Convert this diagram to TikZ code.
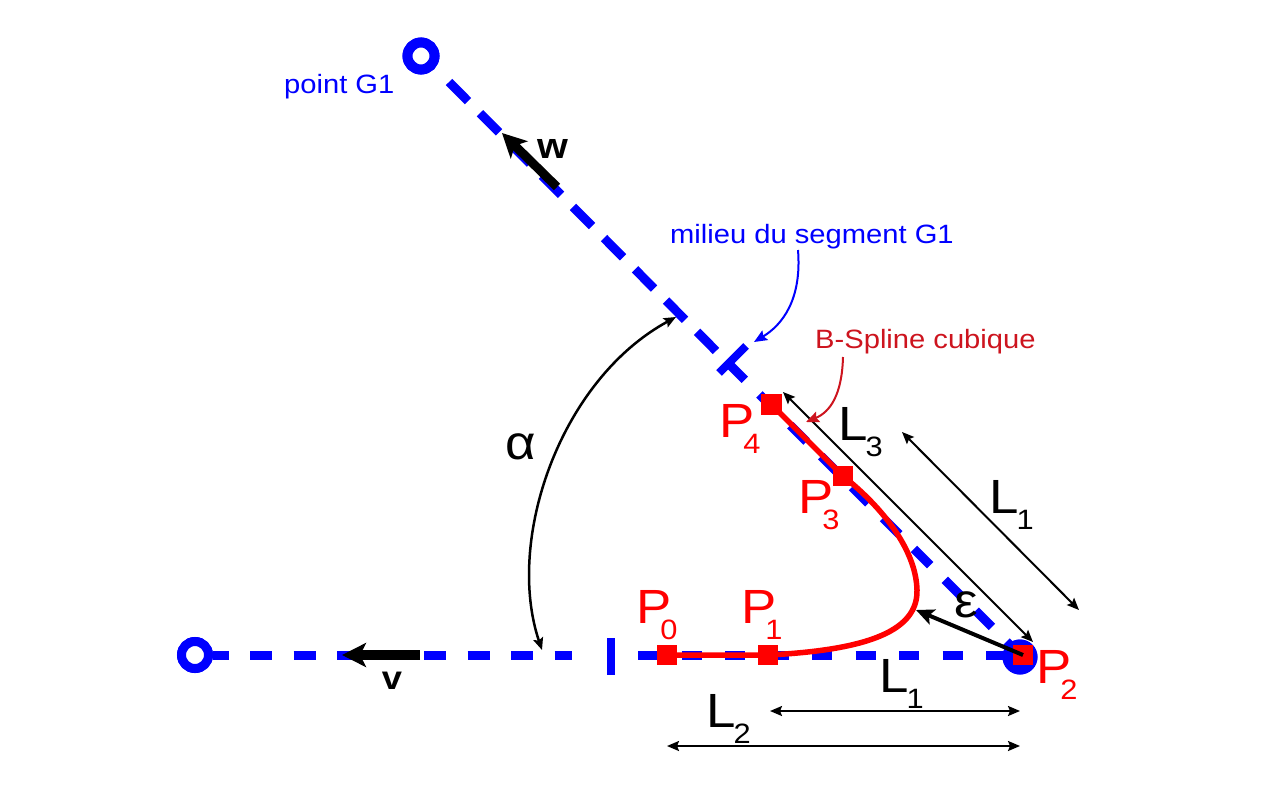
\documentclass[tikz,border=0pt]{standalone}
\usepackage{fontspec}
\setmainfont[FakeStretch=1.1]{Liberation Sans}
\usetikzlibrary{arrows.meta}
\newcommand\myfs[1]{\fontsize{#1}{#1}\selectfont}
\newcommand\subP[2]{#1\kern-11pt\raisebox{-16pt}{\myfs{28}#2}}
\newcommand\subL[2]{#1\kern-2pt\raisebox{-16pt}{\myfs{28}#2}}
\definecolor{myblue}{RGB}{0,0,255}
\definecolor{myred}{RGB}{255,0,0}
\definecolor{darkred}{RGB}{205,20,30}
\tikzset{
  bluedash/.style={draw=myblue, line width=9pt},
  bluetick/.style={draw=myblue, line width=8pt},
  ring/.style={circle, draw=myblue, fill=white, inner sep=0pt},
  sq/.style={rectangle, fill=myred, inner sep=0pt, minimum size=20pt},
  spline/.style={draw=myred, line width=5.5pt},
  thinarrow/.style={draw=black, line width=2pt, {Stealth[length=12pt,width=10pt,inset=2pt]}-{Stealth[length=12pt,width=10pt,inset=2pt]}},
  fatarrow/.style={draw=black, line width=9pt, -{Stealth[length=24pt,width=24pt,inset=6pt]}},
  epsarrow/.style={draw=black, line width=4pt, -{Stealth[length=18pt,width=16pt,inset=4pt]}},
  lbl/.style={inner sep=0pt, anchor=base west},
  big/.style={font=\myfs{48}},
  small/.style={font=\myfs{26.5}},
}
\begin{document}
\begin{tikzpicture}[x=1pt,y=-1pt]
\useasboundingbox[fill=white] (0,0) rectangle (1280,787);

% main points
\node[circle, fill=myblue, inner sep=0pt, minimum size=35pt] (p2c) at (1020,657) {};
\node[ring, line width=10pt, minimum size=27pt] (g1) at (421,56) {};
\node[ring, line width=9pt, minimum size=27pt] (q) at (195,655) {};

% dashed lines (segments between named points)
\coordinate (gs) at (449,82);
\coordinate (tf) at (728.5,363.5);
\coordinate (pe) at (1020,655);
\draw[bluedash, dash pattern=on 27pt off 17pt] (gs) -- (tf);
\draw[bluedash, dash pattern=on 23pt off 20.7pt] (tf) -- (pe);
\coordinate (hl) at (572,655);
\coordinate (hr) at (638,655);
\draw[bluedash, dash pattern=on 22pt off 21.5pt, dash phase=6.5pt] (q) -- (hl);
\draw[bluedash, dash pattern=on 20pt off 23.5pt] (hr) -- (pe);

% ticks
\coordinate (ht1) at (611,638);
\coordinate (ht2) at (611,675);
\draw[bluetick] (ht1) -- (ht2);
\coordinate (mt1) at (719,373);
\coordinate (mt2) at (746,346);
\draw[bluetick] (mt1) -- (mt2);

% rings on top
\node[ring, line width=10pt, minimum size=27pt] at (g1) {};
\node[ring, line width=9pt, minimum size=27pt] at (q) {};
\node[circle, fill=myblue, inner sep=0pt, minimum size=35pt] at (p2c) {};

% spline
\node[sq] (p0) at (667,655) {};
\node[sq] (p1) at (768,655) {};
\node[sq] (p3) at (843,476) {};
\node[sq, minimum size=21pt] (p4) at (771,404) {};
\node[sq] (p2) at (1023,655) {};
\draw[spline] (p0.center) -- (p1.center)
  .. controls (870,650) and (918,630) .. (917,590)
  .. controls (916,550) and (883,508) .. (p3.center) -- (p4.center);
\node[sq] at (p0) {};
\node[sq] at (p1) {};
\node[sq] at (p3) {};
\node[sq, minimum size=21pt] at (p4) {};
\node[sq] at (p2) {};

% vectors w and v
\coordinate (wt) at (557,187);
\coordinate (wh) at (502,133);
\draw[fatarrow] (wt) -- (wh);
\coordinate (vt) at (420,655);
\coordinate (vh) at (342,655);
\draw[fatarrow, line width=10pt] (vt) -- (vh);
\node[inner sep=0pt, font=\myfs{36}\bfseries] (wl) at (553,149) {w};
\node[inner sep=0pt, font=\myfs{33}\bfseries] (vl) at (392,681) {v};

% alpha arc
\coordinate (a1) at (542,650);
\coordinate (a2) at (676,317);
\draw[thinarrow, line width=2.5pt] (a2) .. controls (560,380) and (505,540) .. (a1);
\node[inner sep=0pt, font=\myfs{48}] (al) at (521,447) {α};

% dimension arrows
\coordinate (l3a) at (783,392);
\coordinate (l3b) at (1033,642);
\draw[thinarrow] (l3a) -- (l3b);
\coordinate (l1a) at (902,432);
\coordinate (l1b) at (1079,610);
\draw[thinarrow] (l1a) -- (l1b);
\coordinate (l1c) at (770,711);
\coordinate (l1d) at (1020,711);
\draw[thinarrow] (l1c) -- (l1d);
\coordinate (l2a) at (667,746);
\coordinate (l2b) at (1020,746);
\draw[thinarrow] (l2a) -- (l2b);

% epsilon
\coordinate (epsend) at (916,610);
\draw[epsarrow] (p2.center) -- (epsend);
\node[inner sep=0pt, font=\myfs{48}] (el) at (966,605) {ε};

% annotation arrows
\coordinate (ma) at (798,250);
\coordinate (mb) at (754,342);
\draw[draw=myblue, line width=2pt, -{Stealth[length=13pt,width=11pt,inset=2pt]}] (ma) .. controls (802,300) and (782,325) .. (mb);
\coordinate (ba) at (843,357);
\coordinate (bb) at (806,422);
\draw[draw=darkred, line width=2pt, -{Stealth[length=13pt,width=11pt,inset=2pt]}] (ba) .. controls (842,395) and (830,412) .. (bb);

% text labels
\node[lbl, small, text=myblue] (tg1) at (284,93) {point G1};
\node[lbl, small, text=myblue] (tmil) at (670,243) {milieu du segment G1};
\node[lbl, small, text=darkred] (tbs) at (815,348) {B-Spline cubique};

\node[lbl, big, text=myred] (lp0) at (636,623) {\subP{P}{0}};
\node[lbl, big, text=myred] (lp1) at (741,623) {\subP{P}{1}};
\node[lbl, big, text=myred] (lp2) at (1036,683) {\subP{P}{2}};
\node[lbl, big, text=myred] (lp3) at (798,513) {\subP{P}{3}};
\node[lbl, big, text=myred] (lp4) at (719,437) {\subP{P}{4}};

\node[lbl, big] (ll3) at (838,440) {\subL{L}{3}};
\node[lbl, big] (ll1d) at (989,513) {\subL{L}{1}};
\node[lbl, big] (ll1h) at (879,692) {\subL{L}{1}};
\node[lbl, big] (ll2) at (706,727) {\subL{L}{2}};
\end{tikzpicture}
\end{document}
